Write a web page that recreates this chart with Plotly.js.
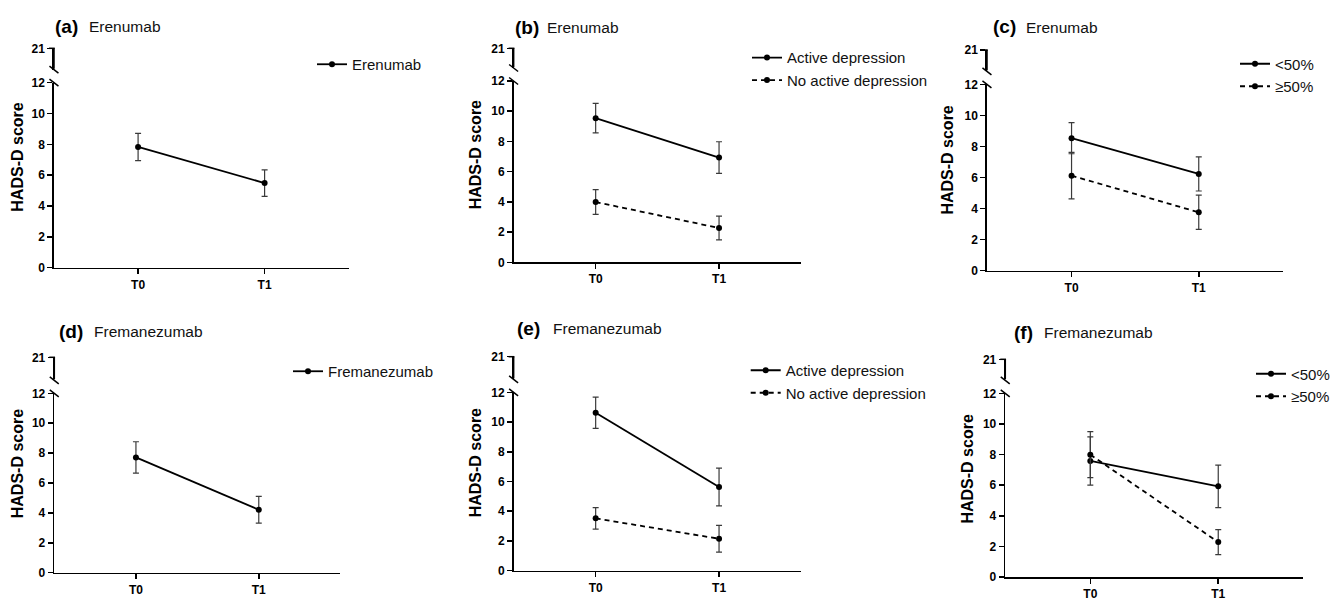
<!DOCTYPE html>
<html>
<head>
<meta charset="utf-8">
<script src="https://cdn.plot.ly/plotly-3.0.1.min.js"></script>
<style>
html,body{margin:0;padding:0;background:#fff;}
#chart{width:1335px;height:600px;}
</style>
</head>
<body>
<div id="chart"></div>
<script>
// ---------- data ----------
const timepoints = ['T0', 'T1'];
const yTicksLower = [0, 2, 4, 6, 8, 10, 12];
const yTickUpper = [21];

// (a) Erenumab
const aErenumab = [7.83, 5.49];
const aErenumabErr = [0.88, 0.86];
// (b) Erenumab by depression
const bActive = [9.54, 6.93];
const bActiveErr = [0.98, 1.05];
const bNoActive = [3.99, 2.27];
const bNoActiveErr = [0.82, 0.78];
// (c) Erenumab by response
const cLt50 = [8.53, 6.23];
const cLt50Err = [1.0, 1.1];
const cGe50 = [6.12, 3.76];
const cGe50Err = [1.5, 1.1];
// (d) Fremanezumab
const dFremanezumab = [7.71, 4.21];
const dFremanezumabErr = [1.05, 0.9];
// (e) Fremanezumab by depression
const eActive = [10.63, 5.63];
const eActiveErr = [1.05, 1.27];
const eNoActive = [3.52, 2.15];
const eNoActiveErr = [0.72, 0.9];
// (f) Fremanezumab by response
const fLt50 = [7.58, 5.92];
const fLt50Err = [1.58, 1.39];
const fGe50 = [7.99, 2.28];
const fGe50Err = [1.5, 0.82];

const panelLetters = ['(a)', '(b)', '(c)', '(d)', '(e)', '(f)'];
const panelDrugs = ['Erenumab', 'Erenumab', 'Erenumab', 'Fremanezumab', 'Fremanezumab', 'Fremanezumab'];
const yTitle = 'HADS-D score';

// ---------- layout geometry (pixels) ----------
const W = 1335, H = 600;
const FONT = 'Liberation Sans, Arial, sans-serif';
const geo = [
  {L: 54,    R: 349,    y0: 267.7, y12: 82.7,  y21: 48.3, ytx: 16.7,  yty: 157, tx: 53,   dx: 87.3,  ty: 26,   lgx: 352,    lgy: 63},
  {L: 514,   R: 801.7,  y0: 262.3, y12: 81,    y21: 48.3, ytx: 476.7, yty: 155, tx: 513,  dx: 545,   ty: 27,   lgx: 787,    lgy: 56.3},
  {L: 987.7, R: 1284.3, y0: 270.7, y12: 84.3,  y21: 50,   ytx: 948.3, yty: 160, tx: 991.7,dx: 1025,  ty: 26.7, lgx: 1275,   lgy: 62.5},
  {L: 54.3,  R: 340.7,  y0: 572.7, y12: 393.3, y21: 357.3,ytx: 17.3,  yty: 464, tx: 57,   dx: 91.7,  ty: 331,  lgx: 328,    lgy: 370},
  {L: 514,   R: 801.7,  y0: 570.7, y12: 392.3, y21: 356.7,ytx: 476.7, yty: 463, tx: 515,  dx: 551,   ty: 328,  lgx: 785.7,  lgy: 369},
  {L: 1006,  R: 1304.3, y0: 577,   y12: 393.3, y21: 359.3,ytx: 967.3, yty: 469, tx: 1013, dx: 1042.7,ty: 332,  lgx: 1291.7, lgy: 372.5}
];

const series = [
  [{name: 'Erenumab', y: aErenumab, e: aErenumabErr, dash: 'solid'}],
  [{name: 'Active depression', y: bActive, e: bActiveErr, dash: 'solid'},
   {name: 'No active depression', y: bNoActive, e: bNoActiveErr, dash: '5px,4px'}],
  [{name: '<50%', y: cLt50, e: cLt50Err, dash: 'solid'},
   {name: '≥50%', y: cGe50, e: cGe50Err, dash: '5px,4px'}],
  [{name: 'Fremanezumab', y: dFremanezumab, e: dFremanezumabErr, dash: 'solid'}],
  [{name: 'Active depression', y: eActive, e: eActiveErr, dash: 'solid'},
   {name: 'No active depression', y: eNoActive, e: eNoActiveErr, dash: '5px,4px'}],
  [{name: '<50%', y: fLt50, e: fLt50Err, dash: 'solid'},
   {name: '≥50%', y: fGe50, e: fGe50Err, dash: '5px,4px'}]
];

const traces = [];
const layout = {
  width: W, height: H,
  margin: {l: 0, r: 0, t: 0, b: 0, pad: 0},
  paper_bgcolor: '#fff', plot_bgcolor: 'rgba(0,0,0,0)',
  showlegend: true,
  font: {family: FONT, color: '#000'},
  annotations: [], shapes: []
};

const axisCommon = {
  showline: true, linecolor: '#000', linewidth: 1.6,
  ticks: 'outside', ticklen: 5, tickwidth: 1.5, tickcolor: '#000',
  tickfont: {family: FONT, size: 12, color: '#000', weight: 'bold'},
  showgrid: false, zeroline: false, fixedrange: true, automargin: false
};

geo.forEach((g, i) => {
  const n = i + 1;
  const xName = n === 1 ? 'xaxis' : 'xaxis' + n;
  const xRef = n === 1 ? 'x' : 'x' + n;
  const lowN = 2 * n - 1, upN = 2 * n;
  const lowName = lowN === 1 ? 'yaxis' : 'yaxis' + lowN;
  const lowRef = lowN === 1 ? 'y' : 'y' + lowN;
  const upName = 'yaxis' + upN;
  const upRef = 'y' + upN;
  const legName = n === 1 ? 'legend' : 'legend' + n;
  const yb = g.y12 - 13; // bottom of upper segment

  layout[xName] = Object.assign({}, axisCommon, {
    domain: [g.L / W, g.R / W], anchor: lowRef, type: 'category',
    categoryorder: 'array', categoryarray: timepoints,
    range: [-0.665, 1.665]
  });
  layout[lowName] = Object.assign({}, axisCommon, {
    domain: [1 - g.y0 / H, 1 - g.y12 / H], anchor: xRef,
    range: [0, 12], tickmode: 'array', tickvals: yTicksLower
  });
  layout[upName] = Object.assign({}, axisCommon, {
    domain: [1 - yb / H, 1 - g.y21 / H], anchor: xRef,
    range: [19.6, 21.0001], tickmode: 'array', tickvals: yTickUpper
  });

  layout[legName] = {
    x: (g.lgx - 40) / W, xanchor: 'left',
    y: 1 - (g.lgy - 15) / H, yanchor: 'top',
    bgcolor: 'rgba(0,0,0,0)', borderwidth: 0,
    font: {family: FONT, size: 15, color: '#111'},
    tracegroupgap: 0, itemwidth: 30
  };

  // empty trace so the upper (broken) axis segment exists
  traces.push({
    type: 'scatter', mode: 'markers', x: timepoints, y: [null, null],
    xaxis: xRef, yaxis: upRef, showlegend: false, hoverinfo: 'skip'
  });

  series[i].forEach(s => {
    traces.push({
      type: 'scatter', mode: 'lines+markers',
      x: timepoints, y: s.y, name: s.name,
      xaxis: xRef, yaxis: lowRef, legend: legName,
      line: {color: '#000', width: 1.8, dash: s.dash},
      marker: {color: '#000', size: 6},
      error_y: {type: 'data', array: s.e, visible: true, color: '#3a3a3a', thickness: 1.2, width: 3},
      cliponaxis: false, hoverinfo: 'skip'
    });
  });

  // panel title: letter + drug
  layout.annotations.push({
    xref: 'paper', yref: 'paper', x: g.tx / W, y: 1 - g.ty / H,
    xanchor: 'left', yanchor: 'middle', showarrow: false,
    text: '<b>' + panelLetters[i] + '</b>',
    font: {family: FONT, size: 19, color: '#000'}
  });
  layout.annotations.push({
    xref: 'paper', yref: 'paper', x: g.dx / W, y: 1 - (g.ty + 0.5) / H,
    xanchor: 'left', yanchor: 'middle', showarrow: false,
    text: panelDrugs[i],
    font: {family: FONT, size: 15.5, color: '#111'}
  });
  // y-axis title
  layout.annotations.push({
    xref: 'paper', yref: 'paper', x: g.ytx / W, y: 1 - g.yty / H,
    xanchor: 'center', yanchor: 'middle', showarrow: false, textangle: -90,
    text: '<b>' + yTitle + '</b>',
    font: {family: FONT, size: 16, color: '#000'}
  });
  // upper segment of the broken y-axis (line + tick at 21)
  layout.shapes.push({
    type: 'line', xref: 'paper', yref: 'paper',
    x0: g.L / W, x1: g.L / W, y0: 1 - g.y21 / H, y1: 1 - (yb - 1) / H,
    line: {color: '#000', width: 1.6}
  });
  layout.shapes.push({
    type: 'line', xref: 'paper', yref: 'paper',
    x0: (g.L - 5) / W, x1: (g.L + 0.8) / W, y0: 1 - g.y21 / H, y1: 1 - g.y21 / H,
    line: {color: '#000', width: 1.5}
  });
  // axis break marks
  [yb, g.y12].forEach(yc => {
    layout.shapes.push({
      type: 'line', xref: 'paper', yref: 'paper',
      x0: (g.L - 4.5) / W, x1: (g.L + 4.5) / W,
      y0: 1 - (yc - 3.5) / H, y1: 1 - (yc + 3.5) / H,
      line: {color: '#000', width: 1.5}
    });
  });
});

Plotly.newPlot('chart', traces, layout, {staticPlot: true, displayModeBar: false});
</script>
</body>
</html>
